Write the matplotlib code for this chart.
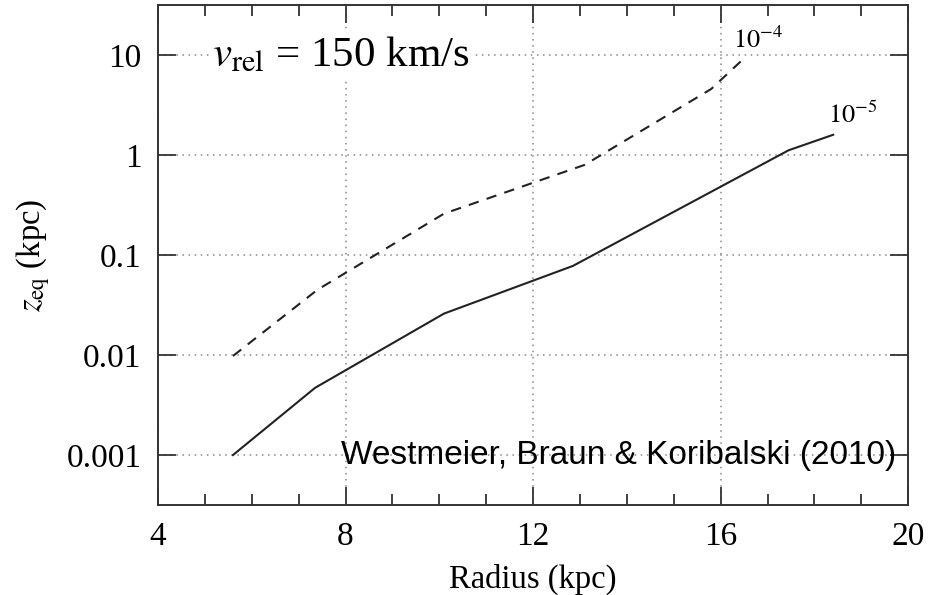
"""
Equilibrium height z_eq versus galactocentric radius (v_rel = 150 km/s)
"""

import matplotlib
matplotlib.use('Agg')
import matplotlib.pyplot as plt
from matplotlib.ticker import MultipleLocator, FixedLocator

# Data
radius_1e5 = [5.6, 7.35, 10.1, 12.85, 17.45, 18.4]
zeq_1e5 = [0.001, 0.0047, 0.026, 0.078, 1.12, 1.6]

radius_1e4 = [5.6, 7.4, 10.1, 13.1, 15.8, 16.55]
zeq_1e4 = [0.0098, 0.045, 0.26, 0.8, 4.6, 9.8]

ytick_vals = [0.001, 0.01, 0.1, 1, 10]
ytick_labels = ['0.001', '0.01', '0.1', '1', '10']
xtick_vals = [4, 8, 12, 16, 20]

plt.rcParams['font.family'] = ['Liberation Serif', 'DejaVu Serif']
plt.rcParams['mathtext.fontset'] = 'stix'

fig = plt.figure(figsize=(9.46, 5.95), dpi=100)
ax = fig.add_axes([0.167, 0.151, 0.793, 0.841])

ax.plot(radius_1e5, zeq_1e5, color='#222222', lw=1.5, ls='-')
ax.plot(radius_1e4, zeq_1e4, color='#222222', lw=1.5, ls=(0, (5, 4)))

ax.set_yscale('log')
ax.set_xlim(4, 20)
ax.set_ylim(3.15e-4, 32)

ax.yaxis.set_major_locator(FixedLocator(ytick_vals))
ax.yaxis.set_minor_locator(FixedLocator([]))
ax.set_yticks(ytick_vals)
ax.set_yticklabels(ytick_labels)
ax.set_xticks(xtick_vals)
ax.xaxis.set_minor_locator(MultipleLocator(1))

ax.tick_params(which='both', direction='in', top=True, right=True,
               labelsize=24, pad=12, width=1.3, color='#333333')
ax.tick_params(which='major', length=13)
ax.tick_params(which='minor', length=8)
for s in ax.spines.values():
    s.set_linewidth(1.4)
    s.set_color('#333333')

ax.grid(True, which='major', color='#888888', ls=(0, (1, 3)), lw=1.1)

ax.set_xlabel('Radius (kpc)', fontsize=23.5, labelpad=8)
ax.set_ylabel(r'$z_{\rm eq}$ (kpc)', fontsize=23.5, labelpad=10)

ax.text(5.15, 10, r'$v_{\rm rel}$ = 150 km/s', fontsize=31, va='center',
        ha='left', bbox=dict(facecolor='white', edgecolor='none', pad=2))
ax.text(16.26, 10.6, r'$10^{-4}$', fontsize=19, ha='left', va='bottom')
ax.text(18.28, 1.85, r'$10^{-5}$', fontsize=19, ha='left', va='bottom')
ax.text(19.75, 0.001, 'Westmeier, Braun & Koribalski (2010)',
        family=['Liberation Sans', 'DejaVu Sans'], fontsize=24,
        ha='right', va='center')

plt.savefig('out.png', dpi=100, facecolor='white')
plt.close()
